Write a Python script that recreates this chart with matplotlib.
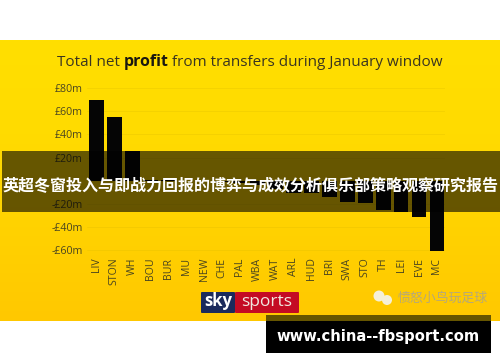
import matplotlib
matplotlib.use("Agg")
import matplotlib.pyplot as plt
import numpy as np
from matplotlib.patches import Rectangle, FancyBboxPatch, Circle
from matplotlib.colors import LinearSegmentedColormap

plt.rcParams['font.family'] = ['Open Sans', 'DejaVu Sans']
CJK = ['Noto Sans CJK SC', 'DejaVu Sans']

teams = ["LIV","STON","WH","BOU","BUR","MU","NEW","CHE","PAL","WBA","WAT","ARL","HUD","BRI","SWA","STO","TH","LEI","EVE","MC"]
values = [70,55,26,1,0.5,0,-0.5,-1,-2,-4,-7,-11,-11,-14,-18.5,-19,-25,-27,-31,-61]
yticks = [80,60,40,20,-20,-40,-60]
ytick_labels = ["£80m","£60m","£40m","£20m","-£20m","-£40m","-£60m"]
title_parts = ["Total net", "profit", "from transfers during January window"]
banner = "英超冬窗投入与即战力回报的博弈与成效分析俱乐部策略观察研究报告"
site = "www.china--fbsport.com"
wechat = "愤怒小鸟玩足球"

W, H = 500, 362
fig = plt.figure(figsize=(W/100, H/100), dpi=100, facecolor="white")
bg = fig.add_axes([0,0,1,1])
cm = LinearSegmentedColormap.from_list("y", ["#FFDF00","#FFDB00","#FFD200","#FFC800"])
bg.imshow(np.linspace(0,1,200).reshape(-1,1), cmap=cm, extent=[0,W,321,40], aspect="auto", zorder=0)
bg.set_xlim(0,W); bg.set_ylim(H,0); bg.axis("off")

# chart axes: y=80 at 88px, y=-61.5 at 252px
top_px, bot_px = 88.0, 252.0
ax = fig.add_axes([87/W, 1-bot_px/H, (445-87)/W, (bot_px-top_px)/H])
ax.patch.set_alpha(0)
x = np.arange(len(teams))
for t in yticks + [0]:
    ax.axhline(t, color="#D9B800", lw=0.5, alpha=0.35, zorder=1)
ax.bar(x, values, width=0.82, color="#050505", zorder=2)
ax.set_xlim(-0.53,19.45)
ax.set_ylim(-61.5,80)
ax.set_yticks(yticks); ax.set_yticklabels(ytick_labels, fontsize=7.7, color="#4a4520")
ax.set_xticks(x); ax.set_xticklabels(teams, rotation=90, fontsize=7.6, color="#4a4520")
ax.tick_params(axis="x", length=0, pad=4)
ax.tick_params(axis="y", length=0, pad=3)
for s in ax.spines.values():
    s.set_visible(False)

# title
tc = "#3a3520"
bg.text(57, 65.5, title_parts[0], fontsize=11, color=tc, va="baseline", ha="left")
bg.text(124, 65.5, title_parts[1], fontsize=11.4, color="#1a1810", fontweight="bold", va="baseline", ha="left")
bg.text(172, 65.5, title_parts[2], fontsize=10.95, color=tc, va="baseline", ha="left")

# sky sports logo
bg.add_patch(FancyBboxPatch((201,292),34,21,boxstyle="round,pad=0,rounding_size=1",fc="#1b2a5c",ec="none",zorder=3))
bg.add_patch(FancyBboxPatch((235,292),64,21,boxstyle="round,pad=0,rounding_size=1",fc="#c40b24",ec="none",zorder=3))
bg.text(218,301.5,"sky",fontsize=12,fontweight="bold",color="white",ha="center",va="center",zorder=4)
bg.text(267,301.5,"sports",fontsize=12.5,color="#f0e8e0",ha="center",va="center",zorder=4)

# wechat mark
bg.add_patch(Circle((379,296),5.5,fc="#F5F0D8",ec="none",zorder=3))
bg.add_patch(Circle((387,300),5,fc="#F5F0D8",ec="none",zorder=3))
bg.text(398,298,wechat,family=CJK,fontsize=9.3,color="#B5A87A",ha="left",va="center",zorder=4)

# overlay band and site box
bg2 = fig.add_axes([0,0,1,1]); bg2.set_xlim(0,W); bg2.set_ylim(H,0); bg2.axis("off"); bg2.patch.set_alpha(0)
bg2.add_patch(Rectangle((2,151),498,61,fc="#000000",alpha=0.6,ec="none"))
bg2.text(250.5,186,banner,family=CJK,fontsize=11.55,fontweight="bold",color="white",ha="center",va="center")
bg2.add_patch(Rectangle((266,315),225,38,fc="#000000",ec="none"))
bg2.add_patch(Rectangle((266,315),225,6,fc="#665500",ec="none"))
bg2.text(378.5,337,site,family="DejaVu Sans",fontsize=10.6,fontweight="bold",color="white",ha="center",va="center")

fig.savefig("out.png", dpi=100, facecolor="white")
